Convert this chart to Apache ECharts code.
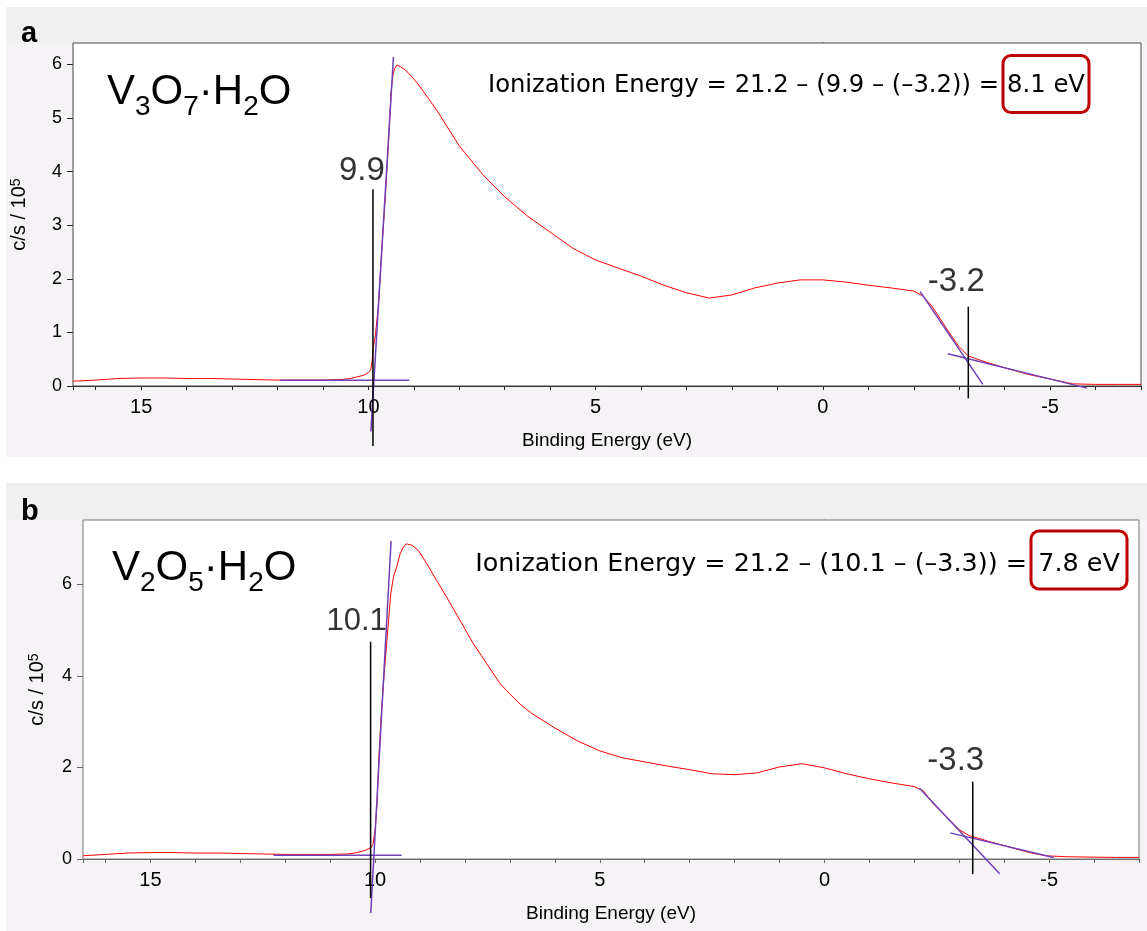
<!DOCTYPE html>
<html>
<head>
<meta charset="utf-8">
<script src="https://cdn.jsdelivr.net/npm/echarts@6/dist/echarts.min.js"></script>
<style>
html, body { margin: 0; padding: 0; background: #fff; }
#chart { width: 1147px; height: 931px; }
</style>
</head>
<body>
<div id="chart"></div>
<script>
// ---------- Panel a: V3O7·H2O ----------
const energyA = [16.5, 16.0, 15.5, 15.0, 14.5, 14.0, 13.5, 13.0, 12.5, 12.0,
  11.5, 11.0, 10.6, 10.4, 10.25, 10.1, 10.0, 9.95, 9.92, 9.9,
  9.85, 9.78, 9.71, 9.63, 9.56, 9.5, 9.46, 9.42, 9.37, 9.3,
  9.19, 9.01, 8.86, 8.5, 8.0, 7.5, 7.0, 6.5, 6.0, 5.5,
  5.0, 4.5, 4.0, 3.5, 3.0, 2.5, 2.0, 1.5, 1.0, 0.5,
  0.0, -0.5, -1.0, -1.5, -2.0, -2.2, -2.4, -2.6, -2.8, -3.0,
  -3.2, -3.5, -4.0, -4.5, -5.0, -5.5, -6.0, -6.5, -7.0];
const countsA = [0.09, 0.11, 0.14, 0.15, 0.15, 0.14, 0.14, 0.13, 0.12, 0.11,
  0.11, 0.11, 0.12, 0.14, 0.17, 0.2, 0.25, 0.3, 0.45, 0.68,
  0.92, 1.5, 2.5, 3.5, 4.5, 5.5, 5.8, 5.93, 5.99, 5.96,
  5.9, 5.74, 5.58, 5.15, 4.48, 3.96, 3.53, 3.17, 2.87, 2.57,
  2.35, 2.2, 2.05, 1.88, 1.74, 1.64, 1.7, 1.83, 1.92, 1.98,
  1.98, 1.94, 1.88, 1.83, 1.77, 1.68, 1.49, 1.23, 0.97, 0.73,
  0.56, 0.47, 0.34, 0.22, 0.13, 0.04, 0.03, 0.03, 0.03];
// linear fits (energy, counts) used to locate the edges
const edgeFitA = [[9.946, -0.85], [9.449, 6.14]];
const baseFitA = [[11.94, 0.106], [9.1, 0.106]];
const cutoffFitA = [[-2.14, 1.76], [-3.52, 0.03]];
const tailFitA = [[-2.75, 0.60], [-5.81, -0.04]];
const onsetA = 9.9;
const cutoffA = -3.2;
const onsetSpanA = [-1.12, 3.67];
const cutoffSpanA = [-0.23, 1.48];
const formulaA = [['V', 0], ['3', 1], ['O', 0], ['7', 1], ['\u00B7H', 0], ['2', 1], ['O', 0]];
const ieA = 8.1;

// ---------- Panel b: V2O5·H2O ----------
const energyB = [16.5, 16.0, 15.5, 15.0, 14.5, 14.0, 13.5, 13.0, 12.5, 12.0,
  11.5, 11.0, 10.6, 10.4, 10.25, 10.1, 10.05, 10.0, 9.96, 9.91,
  9.87, 9.82, 9.76, 9.7, 9.65, 9.59, 9.52, 9.44, 9.37, 9.31,
  9.18, 9.04, 8.85, 8.63, 8.41, 8.11, 7.82, 7.52, 7.22, 7.0,
  6.75, 6.5, 6.0, 5.5, 5.0, 4.5, 4.0, 3.5, 3.0, 2.5, 2.0,
  1.5, 1.0, 0.5, 0.0, -0.5, -1.0, -1.5, -2.0, -2.2, -2.41,
  -2.7, -3.0, -3.22, -3.67, -4.19, -4.56, -4.93, -5.37, -6.0, -6.5,
  -7.0];
const countsB = [0.07, 0.1, 0.13, 0.14, 0.14, 0.13, 0.13, 0.12, 0.11, 0.1,
  0.1, 0.1, 0.11, 0.14, 0.18, 0.24, 0.31, 0.63, 1.15, 2.31,
  3.03, 3.76, 4.49, 5.21, 5.8, 6.16, 6.37, 6.67, 6.81, 6.88,
  6.85, 6.74, 6.45, 6.08, 5.72, 5.21, 4.71, 4.27, 3.83, 3.6,
  3.36, 3.17, 2.86, 2.58, 2.36, 2.21, 2.12, 2.03, 1.95, 1.86, 1.84,
  1.88, 2.01, 2.08, 1.99, 1.86, 1.75, 1.66, 1.58, 1.49, 1.22,
  0.93, 0.64, 0.51, 0.38, 0.24, 0.14, 0.07, 0.05, 0.04, 0.035,
  0.035];
const edgeFitB = [[10.096, -1.18], [9.644, 6.94]];
const baseFitB = [[12.26, 0.08], [9.41, 0.08]];
const cutoffFitB = [[-2.11, 1.55], [-3.90, -0.32]];
const tailFitB = [[-2.80, 0.57], [-5.10, 0.035]];
const onsetB = 10.1;
const cutoffB = -3.3;
const onsetSpanB = [-0.85, 4.74];
const cutoffSpanB = [-0.33, 1.69];
const formulaB = [['V', 0], ['2', 1], ['O', 0], ['5', 1], ['\u00B7H', 0], ['2', 1], ['O', 0]];
const ieB = 7.8;

// ---------- shared text ----------
const photonEnergy = '21.2';
const xTitle = 'Binding Energy (eV)';
const yTitle = 'c/s / 10{sup|5}';
const panelLetters = ['a', 'b'];

const AXIS_FONT = '"Liberation Sans", Arial, Helvetica, sans-serif';
const NOTE_FONT = '"Comic Sans MS", "DejaVu Sans", sans-serif';
const RED = '#ff0000';
const PURPLE = '#7040b8';
const BOX_RED = '#c00000';

const zip = (xs, ys) => xs.map((x, i) => [x, ys[i]]);
const fmt = v => String(v).replace('-', '\u2013');

const measureCtx = document.createElement('canvas').getContext('2d');
function textWidth(text, font) {
  measureCtx.font = font;
  return measureCtx.measureText(text).width;
}

// chemical formula with subscripts, laid out left to right
function formulaGraphic(parts, x0, yBig, ySub) {
  const out = [];
  let x = x0;
  parts.forEach(([t, sub]) => {
    const font = (sub ? 28 : 42) + 'px ' + AXIS_FONT;
    out.push({
      type: 'text', x: x, y: sub ? ySub : yBig, z: 50, silent: true,
      style: { text: t, font: font, fill: '#000', align: 'left', verticalAlign: 'middle',
               textAlign: 'left', textVerticalAlign: 'middle' }
    });
    x += textWidth(t, font);
  });
  return out;
}

// "Ionization Energy = ..." note, sized to run from leftX up to the boxed result
function noteGraphic(onset, cutoff, ie, leftX, rightX, cy, box) {
  const left = 'Ionization Energy = ' + photonEnergy + ' \u2013 (' + fmt(onset) +
               ' \u2013 (' + fmt(cutoff) + ')) =';
  const size = 24 * (rightX - leftX) / textWidth(left, '24px ' + NOTE_FONT);
  const font = size.toFixed(2) + 'px ' + NOTE_FONT;
  return [
    { type: 'text', x: rightX, y: cy, z: 50, silent: true,
      style: { text: left, font: font, fill: '#000', align: 'right', verticalAlign: 'middle',
               textAlign: 'right', textVerticalAlign: 'middle' } },
    { type: 'text', x: box.x + box.w / 2, y: cy, z: 50, silent: true,
      style: { text: ie.toFixed(1) + ' eV', font: font, fill: '#000', align: 'center',
               verticalAlign: 'middle', textAlign: 'center', textVerticalAlign: 'middle' } },
    { type: 'rect', z: 50, silent: true,
      shape: { x: box.x, y: box.y, width: box.w, height: box.h, r: 8 },
      style: { fill: 'none', stroke: BOX_RED, lineWidth: 3 } }
  ];
}

function panelBackground(top, height, bandH, letter, letterY) {
  return [
    { type: 'rect', z: -10, silent: true, shape: { x: 6, y: top, width: 1141, height: height },
      style: { fill: '#f6f3f6' } },
    { type: 'rect', z: -9, silent: true, shape: { x: 6, y: top, width: 1141, height: bandH },
      style: { fill: '#f0f0f0' } },
    { type: 'text', x: 21, y: letterY, z: 50, silent: true,
      style: { text: letter, font: 'bold 29px ' + AXIS_FONT, fill: '#000', align: 'left',
               verticalAlign: 'bottom', textAlign: 'left', textVerticalAlign: 'bottom' } }
  ];
}

function xAxisFor(gi, color) {
  return {
    gridIndex: gi, type: 'value', inverse: true, min: -7, max: 16.5, interval: 1,
    axisLine: { show: true, onZero: false, lineStyle: { color: color, width: 1 } },
    axisTick: { show: true, length: 4, lineStyle: { color: color } },
    axisLabel: { formatter: v => (v % 5 === 0 ? String(v) : ''), fontSize: 20, color: '#000',
                 fontFamily: AXIS_FONT, margin: 11 },
    splitLine: { show: false },
    name: xTitle, nameLocation: 'middle', nameGap: 45,
    nameTextStyle: { fontSize: 19, color: '#000', fontFamily: AXIS_FONT }
  };
}

function yAxesFor(gi, max, minorStep, majorStep, color, nameGap) {
  return [
    { gridIndex: gi, type: 'value', min: 0, max: max, interval: minorStep, position: 'left',
      axisLine: { show: true, lineStyle: { color: color } },
      axisTick: { show: true, length: 3, lineStyle: { color: color } },
      axisLabel: { show: false }, splitLine: { show: false } },
    { gridIndex: gi, type: 'value', min: 0, max: max, interval: majorStep, position: 'left',
      axisLine: { show: false },
      axisTick: { show: true, length: 6, lineStyle: { color: color } },
      axisLabel: { formatter: v => (v % majorStep === 0 ? String(v) : ''), showMaxLabel: false,
                   fontSize: 18, color: '#000', fontFamily: AXIS_FONT, margin: 11 },
      splitLine: { show: false },
      name: yTitle, nameLocation: 'middle', nameRotate: 90, nameGap: nameGap,
      nameTextStyle: { fontSize: 20, color: '#000', fontFamily: AXIS_FONT,
        rich: { sup: { fontSize: 14, fontFamily: AXIS_FONT, color: '#000', verticalAlign: 'top' } } } }
  ];
}

function seriesFor(gi, energy, counts, fits, marks) {
  const xi = gi, yi = gi * 2;
  const list = [{
    type: 'line', xAxisIndex: xi, yAxisIndex: yi, data: zip(energy, counts),
    showSymbol: false, symbol: 'none', silent: true, z: 3,
    lineStyle: { color: RED, width: 1 }
  }];
  fits.forEach(f => list.push({
    type: 'line', xAxisIndex: xi, yAxisIndex: yi, data: f, clip: false,
    showSymbol: false, symbol: 'none', silent: true, z: 4,
    lineStyle: { color: PURPLE, width: 1.5 }
  }));
  marks.forEach(m => {
    list.push({
      type: 'line', xAxisIndex: xi, yAxisIndex: yi, clip: false,
      data: [[m.at, m.span[0]], [m.at, m.span[1]]],
      showSymbol: false, symbol: 'none', silent: true, z: 5,
      lineStyle: { color: '#000', width: 1.5 }
    });
    list.push({
      type: 'scatter', xAxisIndex: xi, yAxisIndex: yi, clip: false, silent: true, z: 6,
      data: [[m.at, m.span[1]]], symbolSize: 1, itemStyle: { color: 'rgba(0,0,0,0)' },
      label: { show: true, position: 'top', distance: m.dist, offset: [m.dx, 0],
               formatter: () => String(m.at), fontSize: m.size, color: '#000', fontFamily: AXIS_FONT }
    });
  });
  return list;
}

const chart = echarts.init(document.getElementById('chart'), null, { renderer: 'canvas' });

const boxA = { x: 1003, y: 55.5, w: 86, h: 57 };
const boxB = { x: 1031, y: 531, w: 96, h: 58 };

const option = {
  animation: false,
  backgroundColor: '#ffffff',
  grid: [
    { left: 73, top: 43, right: 6, bottom: 545, show: true, backgroundColor: '#ffffff',
      borderColor: '#444', borderWidth: 1, z: 1 },
    { left: 83, top: 520, right: 8, bottom: 72, show: true, backgroundColor: '#ffffff',
      borderColor: '#777', borderWidth: 1, z: 1 }
  ],
  xAxis: [xAxisFor(0, '#222'), xAxisFor(1, '#666')],
  yAxis: [].concat(yAxesFor(0, 6.4, 0.2, 1, '#222', 44), yAxesFor(1, 7.4, 0.5, 2, '#666', 36)),
  series: [].concat(
    seriesFor(0, energyA, countsA, [edgeFitA, baseFitA, cutoffFitA, tailFitA], [
      { at: onsetA, span: onsetSpanA, dx: -11, dist: 1, size: 33 },
      { at: cutoffA, span: cutoffSpanA, dx: -12, dist: 8, size: 33 }
    ]),
    seriesFor(1, energyB, countsB, [edgeFitB, baseFitB, cutoffFitB, tailFitB], [
      { at: onsetB, span: onsetSpanB, dx: -14, dist: 4, size: 31 },
      { at: cutoffB, span: cutoffSpanB, dx: -17, dist: 4, size: 33 }
    ])
  ),
  graphic: { elements: [].concat(
    panelBackground(7, 450, 36, panelLetters[0], 48),
    panelBackground(483, 448, 37, panelLetters[1], 526),
    formulaGraphic(formulaA, 107, 92, 107),
    formulaGraphic(formulaB, 112, 568, 583),
    noteGraphic(onsetA, cutoffA, ieA, 488, 999, 86, boxA),
    noteGraphic(onsetB, cutoffB, ieB, 475, 1027, 564, boxB)
  ) }
};

chart.setOption(option);
</script>
</body>
</html>
